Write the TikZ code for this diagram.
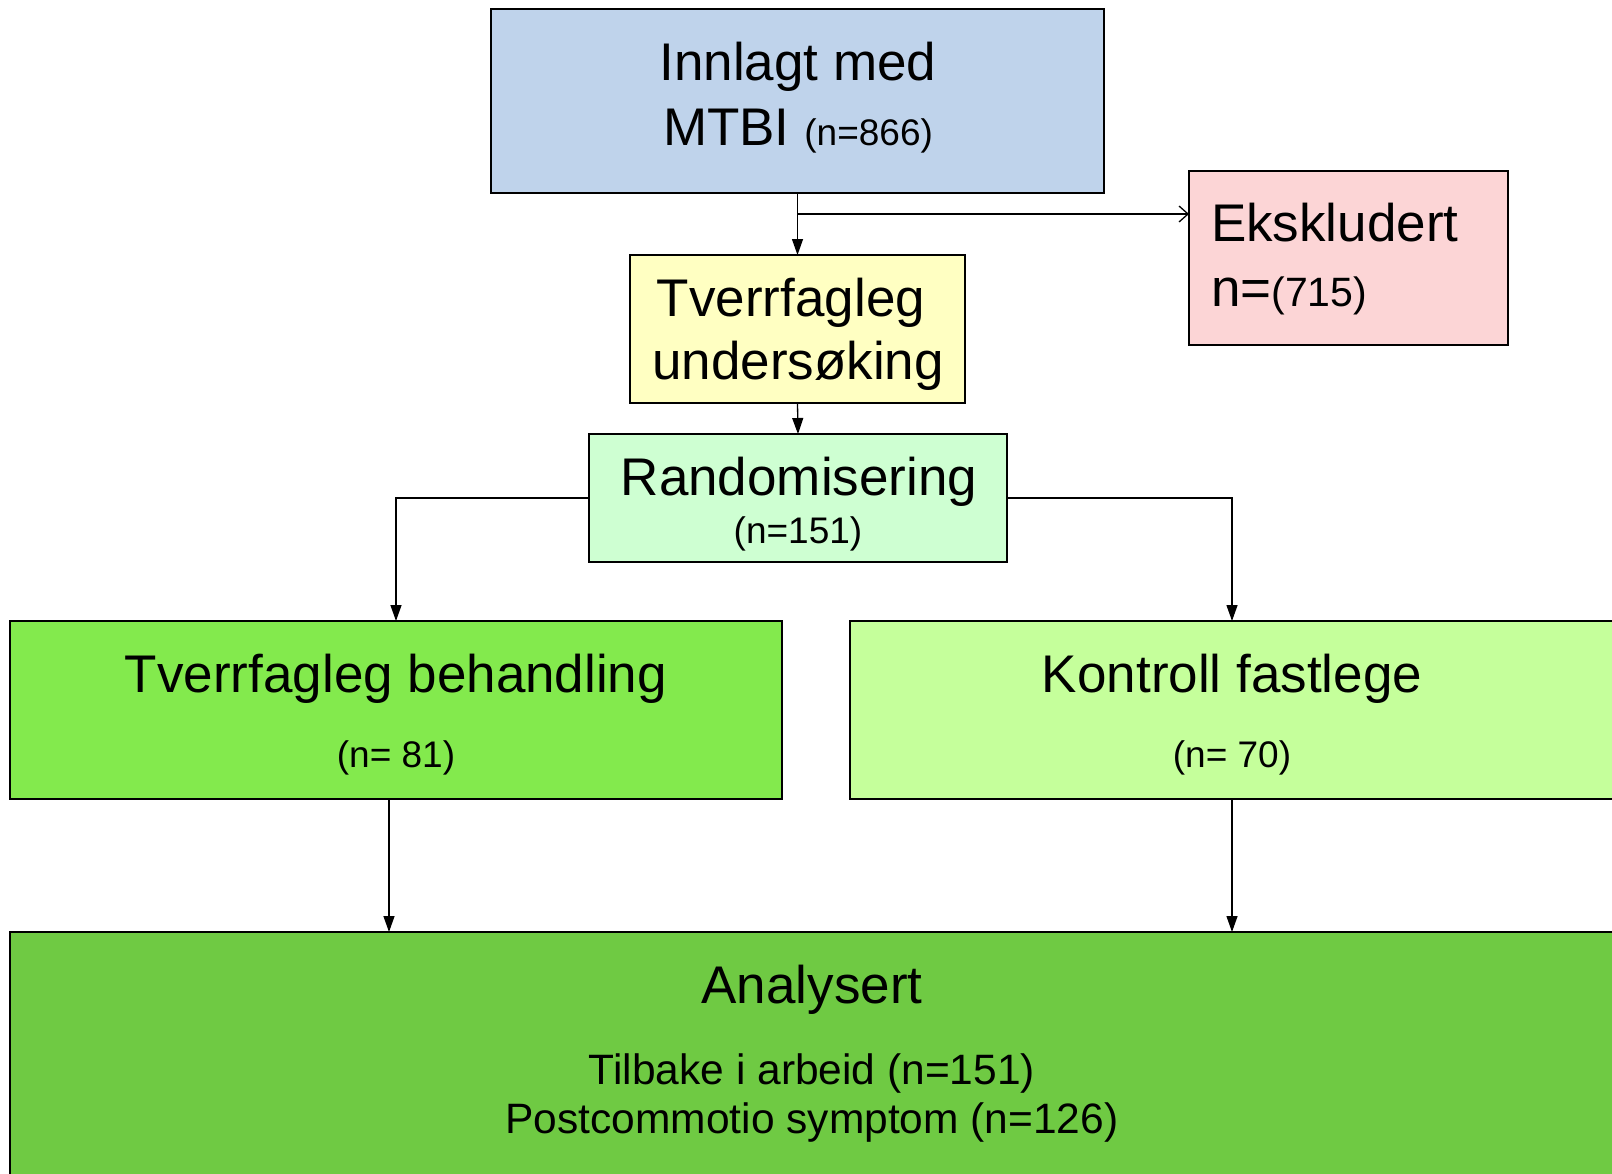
\documentclass[tikz,border=0pt]{standalone}
\usepackage{fontspec}
\setmainfont{Liberation Sans}
\usetikzlibrary{arrows.meta}
\definecolor{cblue}{HTML}{BFD3EB}
\definecolor{cpink}{HTML}{FCD5D6}
\definecolor{cyellow}{HTML}{FFFFC2}
\definecolor{cmint}{HTML}{CEFFD2}
\definecolor{cgreen}{HTML}{83EA4D}
\definecolor{clight}{HTML}{C5FF9B}
\definecolor{cdark}{HTML}{6FCA43}
\begin{document}
\begin{tikzpicture}[x=1pt,y=-1pt,
  box/.style={draw=black, line width=1.6pt, rectangle, inner sep=0pt, outer sep=0pt},
  txt/.style={anchor=base, inner sep=0pt, outer sep=0pt},
  big/.style={font=\fontsize{53}{60}\selectfont},
  small/.style={font=\fontsize{37}{42}\selectfont},
  mid/.style={font=\fontsize{42.5}{48}\selectfont},
  arr/.style={-{Triangle[length=16pt,width=11pt]}, line width=1.3pt},
  oarr/.style={-{Straight Barb[length=9pt,width=16pt,line width=1.3pt]}, line width=1.3pt}]
\useasboundingbox (0,0) rectangle (1612,1173);
\fill[white] (0,0) rectangle (1612,1173);
% boxes
\node[box, fill=cblue, minimum width=613pt, minimum height=184pt] (top) at (797.5,101) {};
\node[box, fill=cpink, minimum width=319pt, minimum height=174pt] (excl) at (1348.5,258) {};
\node[box, fill=cyellow, minimum width=335pt, minimum height=148pt] (tverr) at (797.5,329) {};
\node[box, fill=cmint, minimum width=418pt, minimum height=128pt] (rand) at (798,498) {};
\node[box, fill=cgreen, minimum width=772pt, minimum height=178pt] (left) at (396,710) {};
\node[box, fill=clight, minimum width=764pt, minimum height=178pt] (right) at (1232,710) {};
\node[box, fill=cdark, minimum width=1640pt, minimum height=260pt] (bottom) at (830,1062) {};
% texts
\node[txt, big] (t1) at (798,80) {Innlagt med};
\node[txt, big] (t2) at (798,145) {MTBI {\fontsize{37}{42}\selectfont(n=866)}};
\node[txt, big, anchor=base west] (t3) at (1211,241) {Ekskludert};
\node[txt, big, anchor=base west] (t4) at (1211,306) {n={\fontsize{41}{46}\selectfont(715)}};
\node[txt, big] (t5) at (791,316) {Tverrfagleg};
\node[txt, big] (t6) at (798,379) {undersøking};
\node[txt, big] (t7) at (799,495) {Randomisering};
\node[txt, small] (t8) at (798,543) {(n=151)};
\node[txt, big] (t9) at (396,692) {Tverrfagleg behandling};
\node[txt, small] (t10) at (396,767) {(n= 81)};
\node[txt, big] (t11) at (1232,692) {Kontroll fastlege};
\node[txt, small] (t12) at (1232,767) {(n= 70)};
\node[txt, big] (t13) at (812,1003) {Analysert};
\node[txt, mid] (t14) at (812,1084) {Tilbake i arbeid (n=151)};
\node[txt, mid] (t15) at (812,1133) {Postcommotio symptom (n=126)};
% connectors
\coordinate (br) at (798,214);
\draw[arr] (top.south) -- (tverr.north);
\draw[oarr] (br) -- (br -| excl.west);
\draw[arr] (tverr.south) -- (rand.north);
\draw[arr] (rand.west) -| (left.north);
\draw[arr] (rand.east) -| (right.north);
\draw[arr] ([xshift=-7pt]left.south) -- ([xshift=-7pt]left.south |- bottom.north);
\draw[arr] (right.south) -- (right.south |- bottom.north);
\end{tikzpicture}
\end{document}
